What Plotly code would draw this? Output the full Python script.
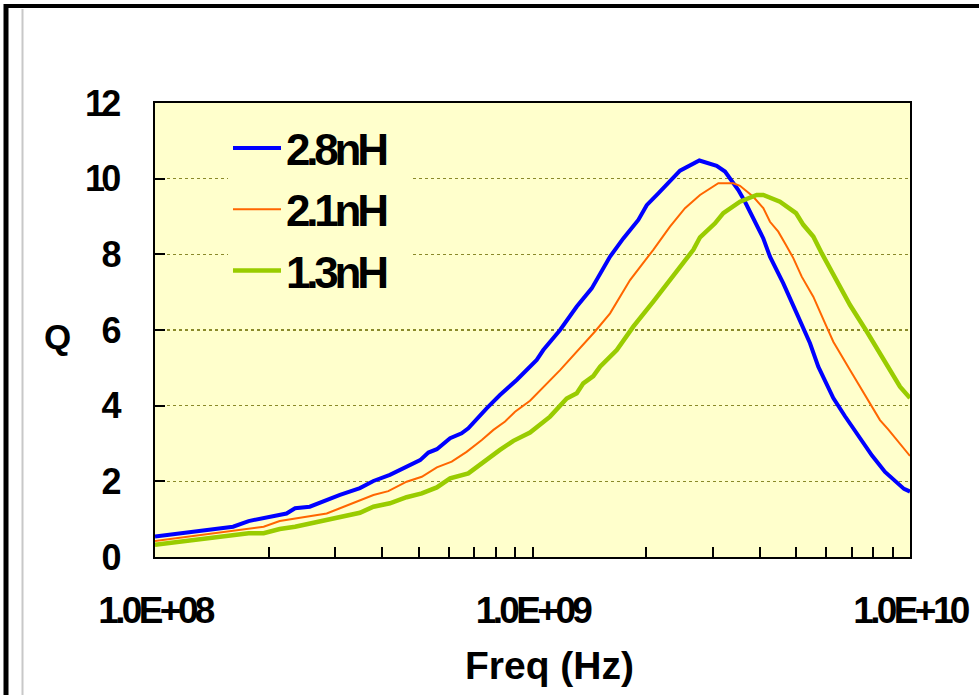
import plotly.graph_objects as go

# ---- data (frequency in GHz, Q) ----
freq_28_ghz = [0.100, 0.161, 0.177, 0.223, 0.235, 0.257, 0.309, 0.349, 0.379, 0.419,
               0.504, 0.530, 0.558, 0.605, 0.649, 0.676, 0.756, 0.820, 0.908, 1.026,
               1.068, 1.183, 1.310, 1.435, 1.605, 1.740, 1.907, 2.007, 2.154, 2.459,
               2.767, 3.075, 3.236, 3.509, 3.655, 4.087, 4.257, 4.617, 5.011, 5.434,
               5.716, 6.264, 6.727, 7.373, 7.932, 8.587, 9.294, 9.641, 10.0]
q_28 = [0.54, 0.80, 0.95, 1.15, 1.29, 1.33, 1.64, 1.82, 2.01, 2.17,
        2.56, 2.76, 2.85, 3.14, 3.27, 3.40, 3.93, 4.28, 4.68, 5.21,
        5.47, 6.00, 6.62, 7.10, 7.94, 8.42, 8.91, 9.30, 9.61, 10.21,
        10.48, 10.34, 10.19, 9.70, 9.39, 8.42, 7.94, 7.23, 6.44, 5.65,
        5.03, 4.20, 3.72, 3.15, 2.68, 2.25, 1.93, 1.80, 1.73]

freq_21_ghz = [0.100, 0.161, 0.194, 0.214, 0.237, 0.263, 0.285, 0.309, 0.349, 0.379,
               0.415, 0.464, 0.509, 0.558, 0.611, 0.669, 0.734, 0.788, 0.846, 0.899,
               0.985, 1.113, 1.183, 1.464, 1.605, 1.813, 2.089, 2.313, 2.535, 2.778,
               3.106, 3.403, 3.545, 3.845, 4.087, 4.257, 4.478, 4.693, 4.908, 5.166,
               5.544, 5.954, 6.264, 6.936, 7.680, 8.327, 8.743, 10.0]
q_21 = [0.42, 0.70, 0.80, 0.95, 1.02, 1.11, 1.15, 1.29, 1.49, 1.64,
        1.74, 1.99, 2.12, 2.37, 2.52, 2.78, 3.09, 3.36, 3.58, 3.84,
        4.13, 4.68, 4.94, 5.96, 6.44, 7.32, 8.12, 8.73, 9.22, 9.57,
        9.88, 9.88, 9.81, 9.52, 9.22, 8.86, 8.60, 8.25, 7.90, 7.41,
        6.88, 6.18, 5.69, 4.94, 4.19, 3.62, 3.38, 2.67]

freq_13_ghz = [0.100, 0.161, 0.177, 0.194, 0.214, 0.235, 0.263, 0.291, 0.315, 0.349,
               0.379, 0.419, 0.464, 0.509, 0.558, 0.605, 0.676, 0.741, 0.820, 0.890,
               0.985, 1.113, 1.232, 1.310, 1.363, 1.449, 1.510, 1.672, 1.849, 2.089,
               2.313, 2.562, 2.667, 2.778, 3.044, 3.202, 3.545, 3.926, 4.087, 4.524,
               4.989, 5.217, 5.544, 5.836, 6.264, 6.936, 7.680, 8.498, 9.408, 10.0]
q_13 = [0.32, 0.58, 0.63, 0.63, 0.74, 0.80, 0.91, 1.02, 1.08, 1.17,
        1.33, 1.42, 1.58, 1.68, 1.84, 2.08, 2.21, 2.52, 2.83, 3.07,
        3.29, 3.71, 4.19, 4.33, 4.59, 4.78, 5.03, 5.47, 6.09, 6.75,
        7.32, 7.85, 8.12, 8.45, 8.82, 9.09, 9.39, 9.57, 9.57, 9.39,
        9.09, 8.78, 8.47, 8.03, 7.45, 6.66, 5.96, 5.21, 4.50, 4.20]

series_names = ["2.8nH", "2.1nH", "1.3nH"]
series_colors = ["#0000FF", "#FF6600", "#99CC00"]
series_widths = [4, 2, 4.5]

x_major = [1e8, 1e9, 1e10]
x_major_labels = ["1.0E+08", "1.0E+09", "1.0E+10"]
x_minor_mult = [2, 3, 4, 5, 6, 7, 8, 9]
y_ticks = [0, 2, 4, 6, 8, 10, 12]

# ---- figure ----
W, H = 979, 695
L, R, T, B = 155, 910, 103, 557
pw, ph = R - L, B - T

def px_x(p):
    return (p - L) / pw

def px_y(p):
    return (B - p) / ph

font_fam = "Liberation Sans, Arial, sans-serif"

fig = go.Figure()
for name, fr, q, c, w in zip(series_names, [freq_28_ghz, freq_21_ghz, freq_13_ghz],
                             [q_28, q_21, q_13], series_colors, series_widths):
    fig.add_trace(go.Scatter(
        x=[f * 1e9 for f in fr], y=q, mode="lines", name=name,
        legendgroup=name,
        line=dict(color=c, width=w),
    ))

tickvals = []
ticktext = []
for i, m in enumerate(x_major):
    tickvals.append(m)
    ticktext.append(x_major_labels[i])
    if i < len(x_major) - 1:
        for k in x_minor_mult:
            tickvals.append(m * k)
            ticktext.append("")

fig.update_layout(
    width=W, height=H,
    margin=dict(l=L, r=W - R, t=T, b=H - B, pad=0, autoexpand=False),
    paper_bgcolor="white",
    plot_bgcolor="#FFFFCC",
    showlegend=True,
    legend=dict(
        x=px_x(228), y=px_y(113), xanchor="left", yanchor="top",
        bgcolor="#FFFFCC", borderwidth=0,
        font=dict(family=font_fam, size=44, color="black", weight="bold"),
        itemwidth=48, traceorder="grouped", tracegroupgap=1,
    ),
    xaxis=dict(
        type="log", range=[8, 10], automargin=False,
        tickmode="array", tickvals=tickvals, ticktext=ticktext,
        ticks="inside", ticklen=10, tickwidth=2, tickcolor="black",
        showgrid=False, zeroline=False,
        showline=True, linecolor="black", linewidth=2, mirror=True,
        tickfont=dict(family=font_fam, size=37, color="black", weight="bold"),
        ticklabelstandoff=20, ticklabeloverflow="allow",
    ),
    yaxis=dict(
        range=[0, 12], tickmode="array", tickvals=y_ticks, automargin=False,
        ticks="inside", ticklen=10, tickwidth=2, tickcolor="black",
        showgrid=True, gridcolor="#8A8A2A", griddash="dot", gridwidth=1.5,
        zeroline=False,
        showline=True, linecolor="black", linewidth=2, mirror=True,
        tickfont=dict(family=font_fam, size=36, color="black", weight="bold"),
        ticklabelstandoff=28, ticklabeloverflow="allow",
    ),
    annotations=[
        dict(text="Freq (Hz)", xref="paper", yref="paper",
             x=px_x(549), y=px_y(665), xanchor="center", yanchor="middle",
             showarrow=False,
             font=dict(family=font_fam, size=39, color="black", weight="bold")),
        dict(text="Q", xref="paper", yref="paper",
             x=px_x(57), y=px_y(336), xanchor="center", yanchor="middle",
             showarrow=False,
             font=dict(family=font_fam, size=35, color="black", weight="bold")),
    ],
    shapes=[
        dict(type="line", xref="paper", yref="paper",
             x0=px_x(6), x1=px_x(6), y0=px_y(4), y1=px_y(720),
             line=dict(color="black", width=5)),
        dict(type="line", xref="paper", yref="paper",
             x0=px_x(4), x1=px_x(1000), y0=px_y(6), y1=px_y(6),
             line=dict(color="black", width=4)),
        dict(type="line", xref="paper", yref="paper",
             x0=px_x(22.5), x1=px_x(22.5), y0=px_y(9), y1=px_y(720),
             line=dict(color="#C8C8C8", width=2)),
    ],
)

post_js = """
document.body.style.margin = '0';
var st = document.createElement('style');
st.textContent = '.xtick text, .ytick text { letter-spacing: -3.6px; } ' +
                 '.legendtext { letter-spacing: -4.2px; }';
document.head.appendChild(st);
"""

fig.write_html("out.html", post_script=post_js,
               config={"displayModeBar": False, "staticPlot": True})
